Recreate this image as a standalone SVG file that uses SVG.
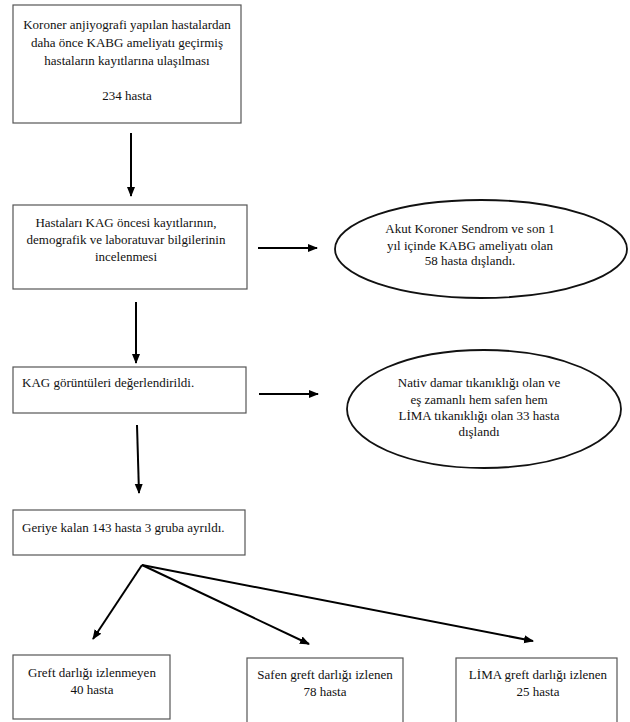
<svg xmlns="http://www.w3.org/2000/svg" width="630" height="722" viewBox="0 0 630 722">
<defs>
<style>
.box{fill:#fff;stroke:#555;stroke-width:1.2}
.ell{fill:#fff;stroke:#111;stroke-width:1.8}
text{font-family:'Liberation Serif','DejaVu Serif',serif;font-size:13px;fill:#111}
.c{text-anchor:middle}
.conn{stroke:#000;stroke-width:2;fill:none;marker-end:url(#ah)}
</style>
<marker id="ah" markerUnits="userSpaceOnUse" markerWidth="10" markerHeight="10" viewBox="0 0 10 10" refX="9" refY="5" orient="auto">
<path d="M0,1 L10,5 L0,9 Z" fill="#000"/>
</marker>
</defs>
<rect width="630" height="722" fill="#fff"/>
<g font-family="Liberation Serif, DejaVu Serif, serif" font-size="13">
<g id="n1">
<rect class="box" x="13" y="5" width="228" height="118"/>
<text class="c" x="127" y="29">Koroner anjiyografi yapılan hastalardan</text>
<text class="c" x="127" y="47">daha önce KABG ameliyatı geçirmiş</text>
<text class="c" x="127" y="65">hastaların kayıtlarına ulaşılması</text>
<text class="c" x="127" y="100">234 hasta</text>
</g>
<g id="n2">
<rect class="box" x="13" y="205" width="234" height="84"/>
<text class="c" x="126" y="227">Hastaları KAG öncesi kayıtlarının,</text>
<text class="c" x="126" y="244">demografik ve laboratuvar bilgilerinin</text>
<text class="c" x="126" y="261">incelenmesi</text>
</g>
<g id="n3">
<ellipse class="ell" cx="481" cy="249" rx="146" ry="49"/>
<text class="c" x="470" y="233">Akut Koroner Sendrom ve son 1</text>
<text class="c" x="470" y="250">yıl içinde KABG ameliyatı olan</text>
<text class="c" x="470" y="265">58 hasta dışlandı.</text>
</g>
<g id="n4">
<rect class="box" x="13" y="367" width="233" height="46"/>
<text x="22" y="387">KAG görüntüleri değerlendirildi.</text>
</g>
<g id="n5">
<ellipse class="ell" cx="484" cy="409" rx="137" ry="59"/>
<text class="c" x="479" y="387">Nativ damar tıkanıklığı olan ve</text>
<text class="c" x="479" y="404">eş zamanlı hem safen hem</text>
<text class="c" x="479" y="420">LİMA tıkanıklığı olan 33 hasta</text>
<text class="c" x="479" y="436">dışlandı</text>
</g>
<g id="n6">
<rect class="box" x="13" y="510" width="232" height="45"/>
<text x="22" y="532">Geriye kalan 143 hasta 3 gruba ayrıldı.</text>
</g>
<g id="n7">
<rect class="box" x="13" y="655" width="157" height="64"/>
<text class="c" x="92" y="677">Greft darlığı izlenmeyen</text>
<text class="c" x="92" y="694">40 hasta</text>
</g>
<g id="n8">
<rect class="box" x="247" y="658" width="156" height="70"/>
<text class="c" x="325" y="679">Safen greft darlığı izlenen</text>
<text class="c" x="325" y="696">78 hasta</text>
</g>
<g id="n9">
<rect class="box" x="456" y="658" width="161" height="70"/>
<text class="c" x="538" y="679">LİMA greft darlığı izlenen</text>
<text class="c" x="538" y="696">25 hasta</text>
</g>
</g>
<g id="connectors">
<line class="conn" x1="131" y1="133" x2="131" y2="196"/>
<line class="conn" x1="258" y1="248" x2="317" y2="248"/>
<line class="conn" x1="136" y1="302" x2="136" y2="363"/>
<line class="conn" x1="259" y1="394" x2="318" y2="394"/>
<line class="conn" x1="137" y1="425" x2="139" y2="493"/>
<line class="conn" x1="142" y1="565" x2="93" y2="639"/>
<line class="conn" x1="142" y1="565" x2="309" y2="644"/>
<line class="conn" x1="142" y1="565" x2="533" y2="641"/>
</g>
</svg>
